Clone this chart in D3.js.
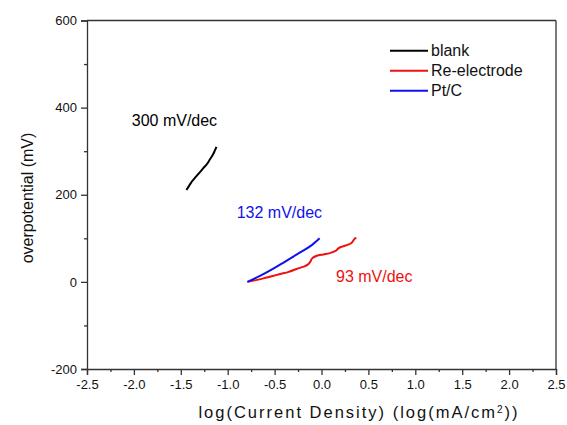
<!DOCTYPE html>
<html><head><meta charset="utf-8">
<script src="https://cdn.jsdelivr.net/npm/d3@7"></script>
<style>body{margin:0;background:#fff}svg{display:block;font-family:Arial,"Liberation Sans",sans-serif}</style>
</head><body><svg id="c" width="567" height="425"></svg>
<script>
const blankX = [-1.44,-1.41,-1.38,-1.34,-1.30,-1.26,-1.22,-1.19,-1.16,-1.14,-1.12];
const blankY = [211,221,231,241,251,261,271,281,291,300,310];
const reX = [-0.79,-0.70,-0.62,-0.53,-0.44,-0.35,-0.26,-0.19,-0.15,-0.12,-0.10,-0.05,0.02,0.09,0.15,0.18,0.22,0.29,0.32,0.35,0.37];
const reY = [0,4,8,13,18,23,30,35,39,46,54,60,63,66,71,77,81,86,89,98,102];
const ptX = [-0.79,-0.70,-0.60,-0.50,-0.40,-0.30,-0.20,-0.10,-0.02];
const ptY = [0,9,20,32,45,58,71,85,100];
const xTicks = [-2.5,-2.0,-1.5,-1.0,-0.5,0.0,0.5,1.0,1.5,2.0,2.5];
const yTicks = [-200,0,200,400,600];
const seriesNames = ["blank","Re-electrode","Pt/C"];
const seriesColors = ["#000000","#ee1111","#1111ee"];
const annoText = ["300 mV/dec","132 mV/dec","93 mV/dec"];
const annoColors = ["#000000","#1111ee","#ee1111"];
const annoX = [-2.023,-0.904,0.155];
const annoY = [357,146,-1];

const svg = d3.select("#c");
const x = d3.scaleLinear().domain([-2.5,2.5]).range([87,556]);
const y = d3.scaleLinear().domain([-200,600]).range([369,20.5]);
const axisCol = "#333";

svg.append("line").attr("x1",x(-2.5)).attr("x2",x(2.5)).attr("y1",y(600)).attr("y2",y(600)).attr("stroke",axisCol).attr("stroke-width",1.3);
svg.append("line").attr("x1",x(2.5)).attr("x2",x(2.5)).attr("y1",y(600)).attr("y2",y(-200)).attr("stroke",axisCol).attr("stroke-width",1.3);

const fmtX = d => d3.format(".1f")(d).replace("\u2212","-");
const fmtY = d => String(d);
const xAxis = d3.axisBottom(x).tickValues(xTicks).tickFormat(fmtX).tickSize(6).tickPadding(5);
const gx = svg.append("g").attr("transform",`translate(0,${y(-200)})`).call(xAxis);
const gxm = svg.append("g").attr("transform",`translate(0,${y(-200)})`)
  .call(d3.axisBottom(x).tickValues(d3.range(-2.25,2.5,0.5)).tickFormat("").tickSize(3));
gxm.select(".domain").remove();
const yAxis = d3.axisLeft(y).tickValues(yTicks).tickFormat(fmtY).tickSize(6).tickPadding(4);
const gy = svg.append("g").attr("transform",`translate(${x(-2.5)},0)`).call(yAxis);
const gym = svg.append("g").attr("transform",`translate(${x(-2.5)},0)`)
  .call(d3.axisLeft(y).tickValues([-100,100,300,500]).tickFormat("").tickSize(3));
gym.select(".domain").remove();
[gx,gy,gxm,gym].forEach(g=>{
  g.selectAll("path,line").attr("stroke",axisCol).attr("stroke-width",1.3);
  g.selectAll("text").attr("font-size",13).attr("fill","#111").attr("font-family","Arial, 'Liberation Sans', sans-serif");
});

svg.append("text").attr("x",359).attr("y",418).attr("text-anchor","middle")
  .attr("font-size",16.5).attr("letter-spacing",2).attr("fill","#111")
  .html('log(Current Density) (log(mA/cm<tspan baseline-shift="super" font-size="10">2</tspan>))');
svg.append("text").attr("transform","translate(33,198) rotate(-90)").attr("text-anchor","middle")
  .attr("font-size",16).attr("fill","#111").text("overpotential (mV)");

const line = d3.line().x(d=>x(d[0])).y(d=>y(d[1])).curve(d3.curveCatmullRom);
const data = [d3.zip(blankX,blankY), d3.zip(reX,reY), d3.zip(ptX,ptY)];
data.forEach((d,i)=>{
  svg.append("path").datum(d).attr("d",line).attr("fill","none")
    .attr("stroke",seriesColors[i]).attr("stroke-width",2);
});

annoText.forEach((t,i)=>{
  svg.append("text").attr("x",x(annoX[i])).attr("y",y(annoY[i])).attr("font-size",16)
    .attr("fill",annoColors[i]).text(t);
});

const lg = svg.append("g");
seriesNames.forEach((n,i)=>{
  const ly = 50.7 + i*20;
  lg.append("line").attr("x1",390).attr("x2",428).attr("y1",ly).attr("y2",ly)
    .attr("stroke",seriesColors[i]).attr("stroke-width",2);
  lg.append("text").attr("x",431).attr("y",ly).attr("dy","0.35em").attr("font-size",16)
    .attr("fill","#111").text(n);
});
</script></body></html>
